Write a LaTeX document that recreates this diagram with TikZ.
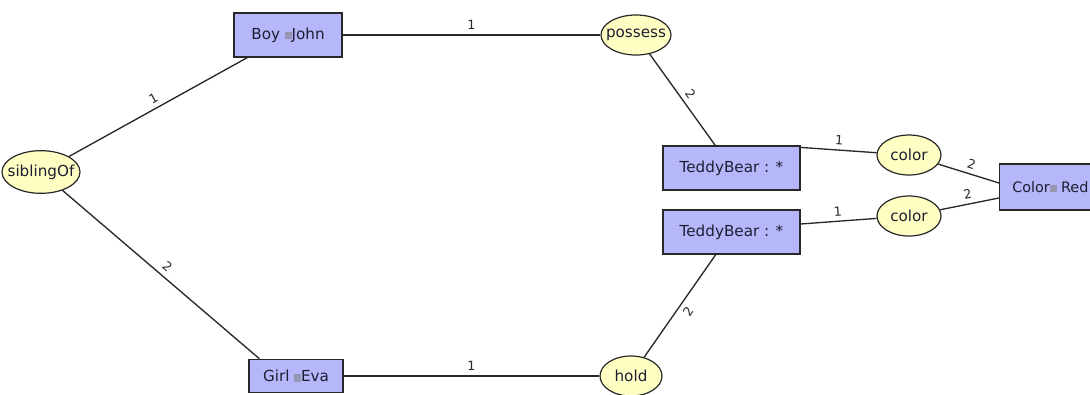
\documentclass[tikz,border=0pt]{standalone}
\usepackage{fontspec}
\setmainfont{DejaVu Sans}
\usetikzlibrary{shapes.geometric,calc}

\definecolor{conceptfill}{RGB}{182,182,250}
\definecolor{relfill}{RGB}{255,255,196}
\definecolor{inkgray}{RGB}{40,40,40}
\definecolor{textink}{RGB}{30,30,50}
\definecolor{markgray}{RGB}{150,150,178}

% small grey referent marker between type and referent
\newcommand\refmark{\textcolor{markgray}{\rule[0pt]{5pt}{5.5pt}}}

\begin{document}
\begin{tikzpicture}[x=0.75pt,y=-0.75pt,
  concept/.style={draw=inkgray, fill=conceptfill, line width=0.9pt,
    font=\fontsize{11.4}{13}\selectfont, text=textink, inner sep=0pt},
  relation/.style={ellipse, draw=inkgray, fill=relfill, line width=0.9pt,
    font=\fontsize{11.4}{13}\selectfont, text=textink, inner xsep=-5pt, inner ysep=-3pt},
  link/.style={draw=inkgray, line width=1pt},
  arg/.style={font=\fontsize{9.5}{11}\selectfont, sloped, inner sep=3.5pt, text=inkgray}]

\useasboundingbox (0,0) rectangle (1090,394);
\clip (0,0) rectangle (1090,394);
\fill[white] (0,0) rectangle (1090,394);

% concepts
\node[concept, minimum width=81pt, minimum height=33pt] (boy) at (288,35) {Boy \refmark John};
\node[concept, minimum width=70.5pt, minimum height=25pt] (girl) at (296,376) {Girl \refmark Eva};
\node[concept, minimum width=102.75pt, minimum height=33pt] (tt) at (731.5,168) {TeddyBear : *};
\node[concept, minimum width=102.75pt, minimum height=33pt] (tb) at (731.5,232) {TeddyBear : *};
\node[concept, anchor=west, inner xsep=9.5pt, minimum height=34.5pt,
      font=\fontsize{10.8}{13}\selectfont] (cr) at (999,187) {Color\refmark{} Red};

% relations
\node[relation, minimum width=58.5pt, minimum height=32pt] (sib) at (41,172) {siblingOf};
\node[relation, minimum width=52.5pt, minimum height=30pt] (pos) at (636,35) {possess};
\node[relation, minimum width=48pt, minimum height=30pt] (ct) at (909,155) {color};
\node[relation, minimum width=48pt, minimum height=30pt] (cb) at (909,216) {color};
\node[relation, minimum width=46.5pt, minimum height=30pt] (hold) at (631,376) {hold};

% arcs
\draw[link] (sib) -- node[arg, above] {1} (boy);
\draw[link] (sib) -- node[arg, above] {2} ($(girl.north west)+(11,0)$);
\draw[link] (boy) -- node[arg, above] {1} (pos);
\draw[link] (pos) -- node[arg, above] {2} (tt);
\draw[link] ($(tt.north east)+(0,2)$) -- node[arg, above] {1} (ct);
\draw[link] (ct) -- node[arg, above] {2} ($(cr.west)+(0,-4)$);
\draw[link] ($(tb.east)+(0,-8)$) -- node[arg, above] {1} (cb);
\draw[link] (cb) -- node[arg, above] {2} ($(cr.west)+(0,11)$);
\draw[link] (hold) -- node[arg, below] {2} (tb);
\draw[link] (girl) -- node[arg, above] {1} (hold);
\end{tikzpicture}
\end{document}
